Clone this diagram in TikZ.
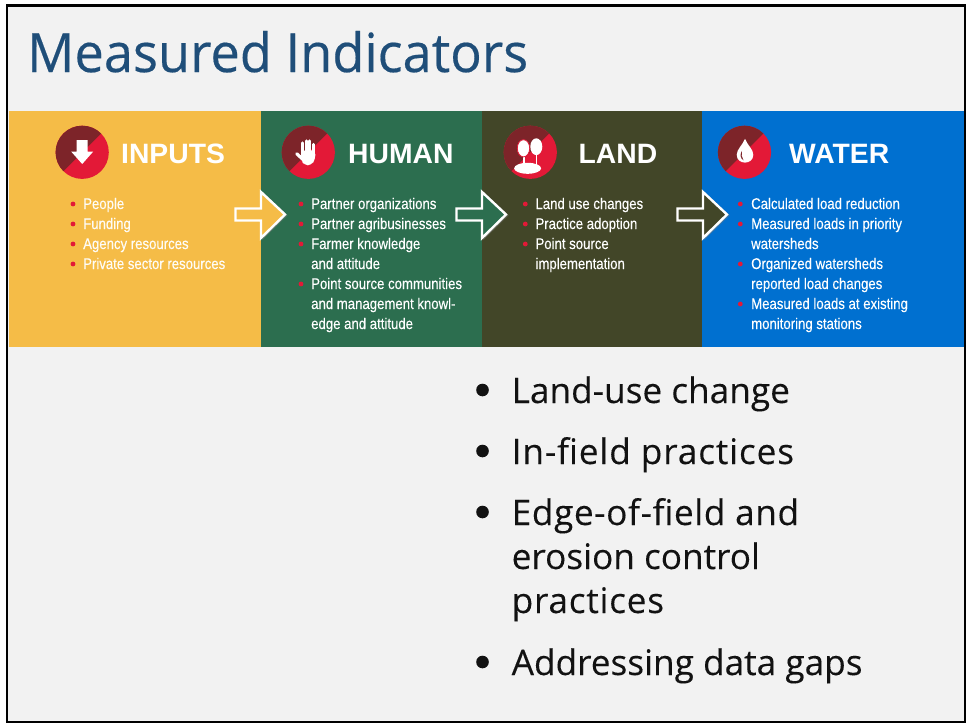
\documentclass[tikz,border=0pt]{standalone}
\usepackage{fontspec}
\setmainfont{Open Sans}
\newfontfamily\titlefont[FakeStretch=0.97,FakeBold=0.35]{Open Sans}
\newfontfamily\bigfont[FakeStretch=1.0,FakeBold=0.15]{Open Sans}
\newfontfamily\narrowfont[FakeStretch=0.85,FakeBold=0.2]{Liberation Sans}
\newfontfamily\headfont[FakeStretch=1.01]{Liberation Sans}
\definecolor{slidebg}{HTML}{F2F2F2}
\definecolor{titleblue}{HTML}{1F4E79}
\definecolor{inputsyellow}{HTML}{F5BC47}
\definecolor{humangreen}{HTML}{2C6E4F}
\definecolor{landolive}{HTML}{424628}
\definecolor{waterblue}{HTML}{0070D0}
\definecolor{icondark}{HTML}{7D2429}
\definecolor{iconred}{HTML}{E31937}
\tikzset{
  panel/.style={anchor=north west,minimum height=236pt,inner sep=0pt,outer sep=0pt},
  heading/.style={anchor=base west,inner sep=0pt,text=white,font=\headfont\fontsize{28}{28}\selectfont\bfseries},
  itemtext/.style={anchor=base west,inner sep=0pt,text=white,font=\narrowfont\fontsize{15.5}{15.5}\selectfont},
  bigtext/.style={anchor=base west,inner sep=0pt,text=black!93,font=\bigfont\fontsize{35.2}{35.2}\selectfont},
  flow/.style={draw=white,line width=2.4pt,line join=miter},
  icon/.style={fill=white,draw=none}
}
% macro for the two-tone disc
\newcommand{\iconbase}[1]{
  \fill[iconred] (#1) circle (26.6);
  \fill[icondark] (#1) ++(-45:26.6) arc (-45:-225:26.6) -- cycle;
}
% macro for the outlined arrow between panels
\newcommand{\flowarrow}[2]{
  \begin{scope}[xshift=#1]
    \draw[line width=2.4pt,black!50,opacity=0.5,shift={(0.8,0.8)}] (261,192) -- (285,214.5) -- (261,238);
    \draw[flow,fill=#2] (235.5,208.5) -- (261,208.5) -- (261,192) -- (285,214.5)
      -- (261,238) -- (261,220.5) -- (235.5,220.5) -- cycle;
  \end{scope}
}
\newcommand{\spaced}[2]{{\addfontfeature{LetterSpace=#1}#2}}
\begin{document}
\begin{tikzpicture}[x=1pt,y=-1pt]
  \useasboundingbox (0,0) rectangle (966,723);
  \fill[white] (0,0) rectangle (966,723);
  \fill[slidebg] (7,5.5) rectangle (964.5,722);

  % title
  \node[anchor=base west,inner sep=0pt,text=titleblue,font=\titlefont\fontsize{54}{54}\selectfont] (title) at (27,72) {Measured Indicators};

  % panels
  \node[panel,fill=inputsyellow,minimum width=252pt] (inputs) at (9,111) {};
  \node[panel,fill=humangreen,minimum width=221pt] (human) at (261,111) {};
  \node[panel,fill=landolive,minimum width=220pt] (land) at (482,111) {};
  \node[panel,fill=waterblue,minimum width=261.5pt] (water) at (702,111) {};

  % arrows
  \flowarrow{0pt}{inputsyellow}
  \flowarrow{221pt}{humangreen}
  \flowarrow{442pt}{landolive}

  % discs
  \coordinate (c1) at (82.2,152.3);
  \coordinate (c2) at (308.3,152.3);
  \coordinate (c3) at (530.3,152.3);
  \coordinate (c4) at (744.5,152.3);
  \iconbase{c1}
  \iconbase{c2}
  \iconbase{c3}
  \iconbase{c4}

  % down arrow
  \begin{scope}[shift={(c1)}]
    \fill[icon] (-5.5,-12.3) -- (5.5,-12.3) -- (5.5,-0.7) -- (11,-0.7) -- (0,11.7) -- (-11,-0.7) -- (-5.5,-0.7) -- cycle;
  \end{scope}

  % hand
  \begin{scope}[shift={(c2)}]
    \foreach \x/\t in {-5.4/-9.5,-2/-11.5,1.6/-11.5,5.4/-8}
      \draw[white,line width=3pt,line cap=round] (\x,3) -- (\x,\t);
    \fill[icon,rounded corners=4pt] (-7,-2) -- (7,-2) -- (7,7) -- (3,13) -- (-4,13) -- (-7,8) -- cycle;
    \draw[white,line width=3.2pt,line cap=round] (-5.5,7) -- (-11.5,1.5);
  \end{scope}

  % trees
  \begin{scope}[shift={(c3)}]
    \draw[white,line width=1.4pt] (6,0) -- (6,13);
    \draw[white,line width=1.4pt] (-6.5,2) -- (-6.5,13);
    \fill[icon] (6,-5.6) ellipse (6 and 8.4);
    \fill[icon,draw=iconred,line width=0.8pt] (-6.8,-4) ellipse (6.2 and 8.6);
    \fill[icon] (-2.7,16) ellipse (13.5 and 5.5);
  \end{scope}

  % drop
  \begin{scope}[shift={(c4)}]
    \fill[icon] (0.5,-13.5) .. controls (3,-7) and (8.8,-3) .. (8.8,2.5)
      .. controls (8.8,7.5) and (4.8,10.3) .. (0.5,10.3)
      .. controls (-3.8,10.3) and (-7.8,7.5) .. (-7.8,2.5)
      .. controls (-7.8,-3) and (-2,-7) .. (0.5,-13.5) -- cycle;
    \fill[icondark] (-2.5,-1.5) .. controls (-5,2) and (-4,6.5) .. (-1,8)
      .. controls (-3,5) and (-3.3,2) .. (-2.5,-1.5) -- cycle;
  \end{scope}

  % headings
  \node[heading] (inputshead) at (121,163) {INPUTS};
  \node[heading] (humanhead) at (348,163) {HUMAN};
  \node[heading] (landhead) at (578.5,163) {LAND};
  \node[heading] (waterhead) at (789,163) {WATER};

  % lists, third field: 1 gets a bullet
  \foreach \n/\y/\t/\b in {
    a/209/People/1, b/229/Funding/1, c/249/Agency resources/1, d/269/Private sector resources/1}{
    \node[itemtext,text=white!95!inputsyellow] (inputs\n) at (83,\y) {\t};
    \ifnum\b=1 \fill[iconred] (73,\y-5) circle (2.4); \fi
  }
  \foreach \n/\y/\t/\b in {
    a/209/Partner organizations/1, b/229/Partner agribusinesses/1, c/249/Farmer knowledge/1,
    d/269/and attitude/0, e/289/Point source communities/1, f/309/and management knowl-/0,
    g/329/edge and attitude/0}{
    \node[itemtext] (human\n) at (311,\y) {\t};
    \ifnum\b=1 \fill[iconred] (301,\y-5) circle (2.4); \fi
  }
  \foreach \n/\y/\t/\b in {
    a/209/Land use changes/1, b/229/Practice adoption/1, c/249/Point source/1, d/269/implementation/0}{
    \node[itemtext] (land\n) at (535.3,\y) {\t};
    \ifnum\b=1 \fill[iconred] (525.3,\y-5) circle (2.4); \fi
  }
  \foreach \n/\y/\t/\b in {
    a/209/Calculated load reduction/1, b/229/Measured loads in priority/1, c/249/watersheds/0,
    d/269/Organized watersheds/1, e/289/reported load changes/0, f/309/Measured loads at existing/1,
    g/329/monitoring stations/0}{
    \node[itemtext] (water\n) at (751,\y) {\t};
    \ifnum\b=1 \fill[iconred] (740.3,\y-5) circle (2.4); \fi
  }

  % bottom list
  \foreach \n/\y/\t/\b in {
    a/403/Land-use change/1, b/464/\spaced{2.5}{In-field practices}/1, c/525/\spaced{1.7}{Edge-of-field and}/1,
    d/569/erosion control/0, e/613/\spaced{2.2}{practices}/0, f/675/Addressing data gaps/1}{
    \node[bigtext] (big\n) at (511.5,\y) {\t};
    \ifnum\b=1 \fill[black!93] (482.5,\y-13) circle (6.3); \fi
  }

  % slide frame
  \draw[black,line width=2.5pt] (7.2,5.5) rectangle (964.8,722);
\end{tikzpicture}
\end{document}
